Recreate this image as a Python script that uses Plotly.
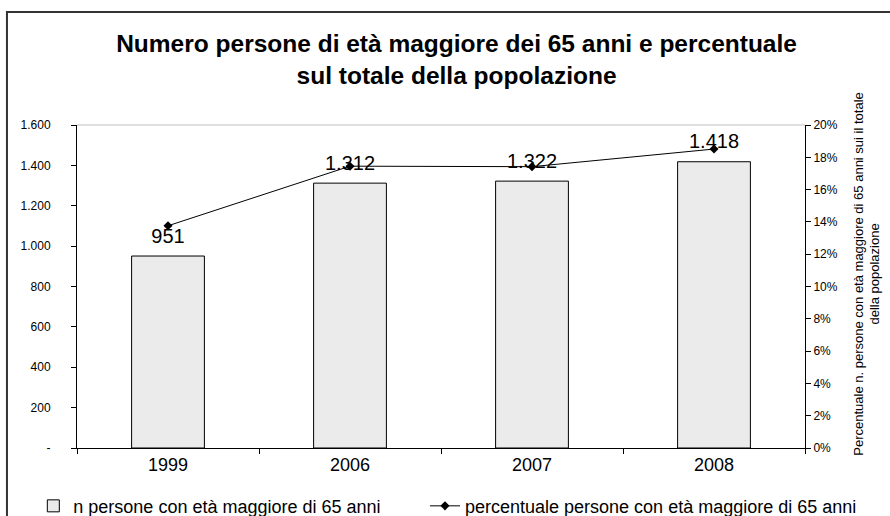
import plotly.graph_objects as go

# --- data ---
anni = ["1999", "2006", "2007", "2008"]
n_persone = [951, 1312, 1322, 1418]
percentuale = [0.1376, 0.1745, 0.1742, 0.1851]
etichette = ["951", "1.312", "1.322", "1.418"]

tick_vals_sx = [0, 200, 400, 600, 800, 1000, 1200, 1400, 1600]
tick_text_sx = ["-", "200", "400", "600", "800", "1.000", "1.200", "1.400", "1.600"]

FONT = "Arial, Liberation Sans, sans-serif"

fig = go.Figure()

fig.add_trace(go.Bar(
    x=anni, y=n_persone,
    name="n persone con età maggiore di 65 anni",
    marker=dict(color="#ebebeb", line=dict(color="black", width=1)),
    legend="legend",
))

# value labels above the bars (invisible marker keeps a small gap)
fig.add_trace(go.Scatter(
    x=anni, y=n_persone, text=etichette,
    mode="markers+text", textposition="top center",
    marker=dict(size=12, opacity=0),
    textfont=dict(family=FONT, size=20, color="black"),
    showlegend=False, hoverinfo="skip",
))

fig.add_trace(go.Scatter(
    x=anni, y=percentuale,
    name="percentuale persone con età maggiore di 65 anni",
    mode="lines+markers",
    line=dict(color="black", width=1),
    marker=dict(symbol="diamond", size=7, color="black"),
    yaxis="y2",
    legend="legend2",
))

# right axis title (two lines, rotated)
fig.add_annotation(
    xref="paper", yref="paper", x=1.084, y=0.54, xanchor="center", yanchor="middle",
    text="Percentuale n. persone con età maggiore di 65 anni sui il totale<br>della popolazione",
    textangle=-90, showarrow=False,
    font=dict(family=FONT, size=13, color="black"),
)

# light grey top edge of the plot area and outer chart border
fig.add_shape(type="line", xref="paper", yref="paper", x0=0, x1=1, y0=1, y1=1,
              line=dict(color="#c0c0c0", width=1))
fig.add_shape(type="rect", xref="paper", yref="paper",
              x0=-0.0962, x1=1.13, y0=-0.23, y1=1.35,
              line=dict(color="#333333", width=2))

legend_style = dict(orientation="h", yanchor="middle", y=-0.18, xanchor="left",
                    font=dict(family=FONT, size=18, color="black"),
                    bgcolor="rgba(0,0,0,0)", itemwidth=30)

fig.update_layout(
    width=890, height=516,
    margin=dict(l=77, r=85, t=125, b=68, autoexpand=False),
    paper_bgcolor="white", plot_bgcolor="white",
    font=dict(family=FONT, color="black"),
    title=dict(
        text="<b>Numero persone di età maggiore dei 65 anni e percentuale<br>sul totale della popolazione</b>",
        x=0.513, xref="container", xanchor="center",
        y=1 - 52 / 516, yref="container", yanchor="middle",
        font=dict(family=FONT, size=24.5, color="black"),
    ),
    bargap=0.6,
    showlegend=True,
    legend=dict(legend_style, x=-0.06),
    legend2=dict(legend_style, x=0.478),
    xaxis=dict(
        type="category",
        showline=True, linecolor="black", linewidth=1,
        ticks="outside", ticklen=5, tickcolor="black", tickson="boundaries",
        showgrid=False, tickfont=dict(size=18), tickangle=0,
    ),
    yaxis=dict(
        range=[0, 1600], tickvals=tick_vals_sx, ticktext=tick_text_sx,
        showline=True, linecolor="black", linewidth=1,
        ticks="outside", ticklen=5, tickcolor="black", ticklabelstandoff=18,
        showgrid=False, zeroline=False, tickfont=dict(size=12),
    ),
    yaxis2=dict(
        range=[0, 0.20], dtick=0.02, tickformat=".0%",
        overlaying="y", side="right",
        showline=True, linecolor="black", linewidth=1,
        ticks="outside", ticklen=5, tickcolor="black",
        showgrid=False, zeroline=False, tickfont=dict(size=12),
    ),
)

fig.write_html("out.html", config={"displayModeBar": False},
               post_script="document.body.style.margin='0';")
